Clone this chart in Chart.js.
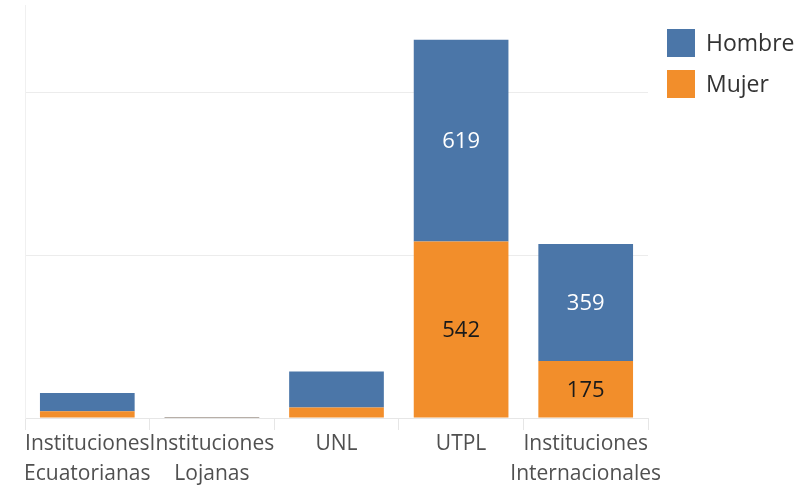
<!DOCTYPE html>
<html>
<head>
<meta charset="utf-8">
<script src="https://cdn.jsdelivr.net/npm/chart.js@4"></script>
<style>
  html, body { margin: 0; padding: 0; background: #fff; }
  #wrap { width: 803px; height: 491px; }
</style>
</head>
<body>
<div id="wrap"><canvas id="myChart" width="803" height="491"></canvas></div>
<script>
// datos
var categorias = [
  ["Instituciones", "Ecuatorianas"],
  ["Instituciones", "Lojanas"],
  "UNL",
  "UTPL",
  ["Instituciones", "Internacionales"]
];
var mujer = [21, 1, 32, 542, 175];
var hombre = [56, 1, 111, 619, 359];
var lineasY = [0, 500, 1000];

var azul = "#4b76a8";
var naranja = "#f28e2b";
var fuente = "'Open Sans', 'DejaVu Sans', sans-serif";

// etiquetas dentro de las barras grandes
var etiquetas = {
  id: "etiquetas",
  afterDatasetsDraw: function(chart) {
    var ctx = chart.ctx;
    ctx.save();
    ctx.font = "22px " + fuente;
    ctx.textAlign = "center";
    ctx.textBaseline = "middle";
    chart.data.datasets.forEach(function(ds, i) {
      var meta = chart.getDatasetMeta(i);
      meta.data.forEach(function(bar, j) {
        var v = ds.data[j];
        if (v < 150) return;
        ctx.fillStyle = ds.label == "Hombre" ? "#ffffff" : "#1a1a1a";
        ctx.fillText(String(v), bar.x, (bar.y + bar.base) / 2 + 1);
      });
    });
    ctx.restore();
  }
};

// leyenda a la derecha
var leyenda = {
  id: "leyenda",
  afterDraw: function(chart) {
    var ctx = chart.ctx;
    ctx.save();
    ctx.font = "23px " + fuente;
    ctx.textBaseline = "middle";
    var items = [["Hombre", azul], ["Mujer", naranja]];
    items.forEach(function(it, k) {
      var y = 29 + k * 41;
      ctx.fillStyle = it[1];
      ctx.fillRect(667, y, 28, 28);
      ctx.fillStyle = "#333333";
      ctx.fillText(it[0], 706, y + 15);
    });
    ctx.restore();
  }
};

var ctx = document.getElementById("myChart").getContext("2d");
var myChart = new Chart(ctx, {
  type: "bar",
  data: {
    labels: categorias,
    datasets: [
      { label: "Mujer", data: mujer, backgroundColor: naranja },
      { label: "Hombre", data: hombre, backgroundColor: azul }
    ]
  },
  options: {
    responsive: false,
    animation: false,
    layout: { padding: { left: 25, right: 155, top: 5, bottom: 0 } },
    plugins: {
      legend: { display: false },
      tooltip: { enabled: false }
    },
    datasets: {
      bar: { barPercentage: 0.76, categoryPercentage: 1.0 }
    },
    scales: {
      x: {
        stacked: true,
        grid: {
          offset: true,
          drawOnChartArea: false,
          drawTicks: true,
          tickLength: 12,
          color: "#e6e6e6"
        },
        border: { color: "#e6e6e6" },
        ticks: {
          color: "#505050",
          font: { family: fuente, size: 21, lineHeight: 1.43 },
          padding: -1,
          maxRotation: 0,
          autoSkip: false
        },
        afterFit: function(scale) { scale.height = 73; }
      },
      y: {
        stacked: true,
        min: 0,
        max: 1268,
        ticks: { display: false },
        afterBuildTicks: function(scale) {
          scale.ticks = lineasY.map(function(v) { return { value: v }; });
        },
        grid: { color: "#ececec", drawTicks: false },
        border: { color: "#f0f0f0" },
        afterFit: function(scale) { scale.width = 0; }
      }
    }
  },
  plugins: [etiquetas, leyenda]
});
</script>
</body>
</html>
